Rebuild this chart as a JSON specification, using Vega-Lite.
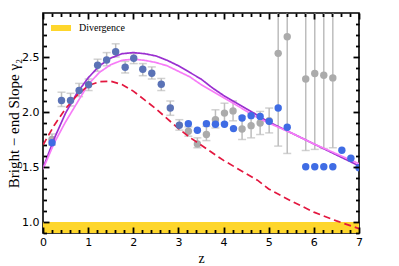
{
  "$schema": "https://vega.github.io/schema/vega-lite/v6.json",
  "width": 316,
  "height": 220,
  "autosize": "none",
  "padding": {"left": 43, "top": 13, "right": 40, "bottom": 33},
  "background": "white",
  "config": {
    "view": {"stroke": "black", "strokeWidth": 1.6},
    "axis": {"grid": false, "domain": false, "labelColor": "black", "titleColor": "black"}
  },
  "datasets": {
    "band": [{"x0": 0, "x1": 7, "ya": 0.9, "yb": 1.0, "k": "Divergence"}],
    "curves": [
      {"s": "A", "z": 0, "v": 1.49}, {"s": "A", "z": 0.25, "v": 1.76}, {"s": "A", "z": 0.5, "v": 1.99}, {"s": "A", "z": 0.75, "v": 2.17},
      {"s": "A", "z": 1.0, "v": 2.31}, {"s": "A", "z": 1.25, "v": 2.42}, {"s": "A", "z": 1.5, "v": 2.49}, {"s": "A", "z": 1.75, "v": 2.53},
      {"s": "A", "z": 2.0, "v": 2.54}, {"s": "A", "z": 2.25, "v": 2.53}, {"s": "A", "z": 2.5, "v": 2.51}, {"s": "A", "z": 2.75, "v": 2.47},
      {"s": "A", "z": 3.0, "v": 2.42}, {"s": "A", "z": 3.25, "v": 2.36}, {"s": "A", "z": 3.5, "v": 2.3}, {"s": "A", "z": 3.75, "v": 2.22},
      {"s": "A", "z": 4.0, "v": 2.15}, {"s": "A", "z": 4.25, "v": 2.09}, {"s": "A", "z": 4.5, "v": 2.03}, {"s": "A", "z": 4.75, "v": 1.97},
      {"s": "A", "z": 5.0, "v": 1.91}, {"s": "A", "z": 5.5, "v": 1.81}, {"s": "A", "z": 6.0, "v": 1.71}, {"s": "A", "z": 6.5, "v": 1.61},
      {"s": "A", "z": 7.0, "v": 1.51},
      {"s": "B", "z": 0, "v": 1.48}, {"s": "B", "z": 0.25, "v": 1.72}, {"s": "B", "z": 0.5, "v": 1.91}, {"s": "B", "z": 0.75, "v": 2.08},
      {"s": "B", "z": 1.0, "v": 2.25}, {"s": "B", "z": 1.25, "v": 2.36}, {"s": "B", "z": 1.5, "v": 2.43}, {"s": "B", "z": 1.75, "v": 2.47},
      {"s": "B", "z": 2.0, "v": 2.48}, {"s": "B", "z": 2.25, "v": 2.47}, {"s": "B", "z": 2.5, "v": 2.45}, {"s": "B", "z": 2.75, "v": 2.42},
      {"s": "B", "z": 3.0, "v": 2.37}, {"s": "B", "z": 3.25, "v": 2.32}, {"s": "B", "z": 3.5, "v": 2.25}, {"s": "B", "z": 3.75, "v": 2.19},
      {"s": "B", "z": 4.0, "v": 2.13}, {"s": "B", "z": 4.25, "v": 2.07}, {"s": "B", "z": 4.5, "v": 2.01}, {"s": "B", "z": 4.75, "v": 1.95},
      {"s": "B", "z": 5.0, "v": 1.9}, {"s": "B", "z": 5.5, "v": 1.81}, {"s": "B", "z": 6.0, "v": 1.71}, {"s": "B", "z": 6.5, "v": 1.62},
      {"s": "B", "z": 7.0, "v": 1.53},
      {"s": "C", "z": 0, "v": 1.7}, {"s": "C", "z": 0.25, "v": 1.88}, {"s": "C", "z": 0.5, "v": 2.03}, {"s": "C", "z": 0.75, "v": 2.15},
      {"s": "C", "z": 1.0, "v": 2.24}, {"s": "C", "z": 1.25, "v": 2.275}, {"s": "C", "z": 1.5, "v": 2.28}, {"s": "C", "z": 1.75, "v": 2.25},
      {"s": "C", "z": 2.0, "v": 2.19}, {"s": "C", "z": 2.25, "v": 2.11}, {"s": "C", "z": 2.5, "v": 2.03}, {"s": "C", "z": 2.75, "v": 1.94},
      {"s": "C", "z": 3.0, "v": 1.85}, {"s": "C", "z": 3.25, "v": 1.77}, {"s": "C", "z": 3.5, "v": 1.7}, {"s": "C", "z": 3.75, "v": 1.63},
      {"s": "C", "z": 4.0, "v": 1.56}, {"s": "C", "z": 4.25, "v": 1.5}, {"s": "C", "z": 4.5, "v": 1.44}, {"s": "C", "z": 4.75, "v": 1.38},
      {"s": "C", "z": 5.0, "v": 1.3}, {"s": "C", "z": 5.5, "v": 1.19}, {"s": "C", "z": 6.0, "v": 1.09}, {"s": "C", "z": 6.5, "v": 1.01},
      {"s": "C", "z": 7.0, "v": 0.94}
    ],
    "obs": [
      {"kind": "gray", "z": 0.2, "y": 1.75, "lo": 1.7, "hi": 1.8},
      {"kind": "gray", "z": 3.22, "y": 1.825, "lo": 1.78, "hi": 1.865},
      {"kind": "gray", "z": 3.42, "y": 1.71, "lo": 1.675, "hi": 1.765},
      {"kind": "gray", "z": 3.62, "y": 1.795, "lo": 1.74, "hi": 1.87},
      {"kind": "gray", "z": 3.82, "y": 1.93, "lo": 1.855, "hi": 2.02},
      {"kind": "gray", "z": 4.02, "y": 1.99, "lo": 1.9, "hi": 2.08},
      {"kind": "gray", "z": 4.21, "y": 2.01, "lo": 1.92, "hi": 2.1},
      {"kind": "gray", "z": 4.41, "y": 1.846, "lo": 1.75, "hi": 1.96},
      {"kind": "gray", "z": 4.61, "y": 1.876, "lo": 1.765, "hi": 1.99},
      {"kind": "gray", "z": 4.81, "y": 1.9, "lo": 1.795, "hi": 2.005},
      {"kind": "gray", "z": 5.01, "y": 1.92, "lo": 1.81, "hi": 2.036},
      {"kind": "gray", "z": 5.21, "y": 2.533, "lo": 1.69, "hi": 3.05},
      {"kind": "gray", "z": 5.41, "y": 2.684, "lo": 1.623, "hi": 3.05},
      {"kind": "gray", "z": 5.82, "y": 2.3, "lo": 1.65, "hi": 3.05},
      {"kind": "gray", "z": 6.02, "y": 2.35, "lo": 1.66, "hi": 3.05},
      {"kind": "gray", "z": 6.22, "y": 2.334, "lo": 1.668, "hi": 3.05},
      {"kind": "gray", "z": 6.42, "y": 2.31, "lo": 1.675, "hi": 3.05},
      {"kind": "steel", "z": 0.41, "y": 2.105, "lo": 2.05, "hi": 2.18},
      {"kind": "steel", "z": 0.61, "y": 2.105, "lo": 2.055, "hi": 2.17},
      {"kind": "steel", "z": 0.8, "y": 2.195, "lo": 2.14, "hi": 2.26},
      {"kind": "steel", "z": 1.01, "y": 2.247, "lo": 2.195, "hi": 2.3},
      {"kind": "steel", "z": 1.21, "y": 2.425, "lo": 2.37, "hi": 2.48},
      {"kind": "steel", "z": 1.41, "y": 2.473, "lo": 2.42, "hi": 2.54},
      {"kind": "steel", "z": 1.61, "y": 2.548, "lo": 2.5, "hi": 2.62},
      {"kind": "steel", "z": 1.82, "y": 2.407, "lo": 2.355, "hi": 2.46},
      {"kind": "steel", "z": 2.01, "y": 2.488, "lo": 2.44, "hi": 2.53},
      {"kind": "steel", "z": 2.21, "y": 2.389, "lo": 2.33, "hi": 2.44},
      {"kind": "steel", "z": 2.41, "y": 2.353, "lo": 2.3, "hi": 2.41},
      {"kind": "steel", "z": 2.62, "y": 2.253, "lo": 2.195, "hi": 2.305},
      {"kind": "steel", "z": 2.82, "y": 2.036, "lo": 1.97, "hi": 2.1},
      {"kind": "steel", "z": 3.02, "y": 1.879, "lo": 1.835, "hi": 1.93}
    ],
    "bright": [
      {"z": 0.2, "y": 1.72}, {"z": 3.22, "y": 1.894}, {"z": 3.42, "y": 1.834}, {"z": 3.62, "y": 1.894},
      {"z": 3.82, "y": 1.888}, {"z": 4.02, "y": 1.888}, {"z": 4.22, "y": 1.849}, {"z": 4.41, "y": 1.946},
      {"z": 4.61, "y": 1.967}, {"z": 4.81, "y": 1.96}, {"z": 5.01, "y": 1.915}, {"z": 5.21, "y": 2.036},
      {"z": 5.41, "y": 1.861}, {"z": 5.82, "y": 1.503}, {"z": 6.02, "y": 1.503}, {"z": 6.22, "y": 1.503},
      {"z": 6.42, "y": 1.503}, {"z": 6.62, "y": 1.653}, {"z": 6.82, "y": 1.58}, {"z": 7.0, "y": 1.494}
    ]
  },
  "layer": [
    {
      "data": {"name": "band"},
      "mark": {"type": "rect", "clip": true},
      "encoding": {
        "x": {"field": "x0", "type": "quantitative", "scale": {"domain": [0, 7], "nice": false, "zero": false},
          "axis": {"orient": "bottom", "zindex": 2,
            "values": [0,0.2,0.4,0.6,0.8,1,1.2,1.4,1.6,1.8,2,2.2,2.4,2.6,2.8,3,3.2,3.4,3.6,3.8,4,4.2,4.4,4.6,4.8,5,5.2,5.4,5.6,5.8,6,6.2,6.4,6.6,6.8,7],
            "labelExpr": "abs(datum.value - round(datum.value)) < 0.001 ? format(datum.value, 'd') : ''",
            "labelOverlap": false, "labelFlush": false, "tickColor": "black", "tickWidth": 1.8,
            "tickSize": {"condition": {"test": "abs(datum.value - round(datum.value)) < 0.001", "value": -6}, "value": -3.5},
            "labelPadding": 9, "labelFont": "DejaVu Sans", "labelFontSize": 11, "title": "z",
            "titleFont": "Liberation Serif", "titleFontSize": 14, "titleFontWeight": "normal", "titlePadding": 2}},
        "x2": {"field": "x1"},
        "y": {"field": "ya", "type": "quantitative", "scale": {"domain": [0.9, 2.9], "nice": false, "zero": false},
          "axis": {"orient": "left", "zindex": 2,
            "values": [0.9,1.0,1.1,1.2,1.3,1.4,1.5,1.6,1.7,1.8,1.9,2.0,2.1,2.2,2.3,2.4,2.5,2.6,2.7,2.8],
            "labelExpr": "abs(datum.value*2 - round(datum.value*2)) < 0.001 ? format(datum.value, '.1f') : ''",
            "labelOverlap": false, "labelFlush": false, "tickColor": "black", "tickWidth": 1.8,
            "tickSize": {"condition": {"test": "abs(datum.value*2 - round(datum.value*2)) < 0.001", "value": -6}, "value": -3.5},
            "labelPadding": 10, "labelFont": "DejaVu Sans", "labelFontSize": 11, "title": "Bright − end Slope γ₂",
            "titleFont": "Liberation Serif", "titleFontSize": 15, "titleFontWeight": "normal", "titlePadding": 0}},
        "y2": {"field": "yb"},
        "fill": {"field": "k", "type": "nominal", "scale": {"range": ["#fed62c"]},
          "legend": {"orient": "none", "legendX": 8, "legendY": 5, "title": null, "padding": 0,
            "symbolType": "M-1,-0.3H1V0.3H-1Z", "symbolSize": 400, "symbolStrokeWidth": 0, "symbolOpacity": 1,
            "labelFont": "Liberation Serif", "labelFontSize": 10, "labelColor": "black", "labelOffset": 8}}
      }
    },
    {
      "data": {"name": "obs"},
      "mark": {"type": "rule", "clip": true, "color": "#bdbdbd", "strokeWidth": 1.5},
      "encoding": {
        "x": {"field": "z", "type": "quantitative",
          "axis": {"orient": "top", "zindex": 2,
            "values": [0,0.2,0.4,0.6,0.8,1,1.2,1.4,1.6,1.8,2,2.2,2.4,2.6,2.8,3,3.2,3.4,3.6,3.8,4,4.2,4.4,4.6,4.8,5,5.2,5.4,5.6,5.8,6,6.2,6.4,6.6,6.8,7],
            "labels": false, "title": null, "tickColor": "black", "tickWidth": 1.8,
            "tickSize": {"condition": {"test": "abs(datum.value - round(datum.value)) < 0.001", "value": -6}, "value": -3.5}}},
        "y": {"field": "lo", "type": "quantitative",
          "axis": {"orient": "right", "zindex": 2,
            "values": [0.9,1.0,1.1,1.2,1.3,1.4,1.5,1.6,1.7,1.8,1.9,2.0,2.1,2.2,2.3,2.4,2.5,2.6,2.7,2.8],
            "labels": false, "title": null, "tickColor": "black", "tickWidth": 1.8,
            "tickSize": {"condition": {"test": "abs(datum.value*2 - round(datum.value*2)) < 0.001", "value": -6}, "value": -3.5}}},
        "y2": {"field": "hi"}
      }
    },
    {
      "data": {"name": "obs"},
      "mark": {"type": "tick", "orient": "horizontal", "clip": true, "color": "#bdbdbd", "size": 8, "thickness": 1.5},
      "encoding": {
        "x": {"field": "z", "type": "quantitative", "axis": null},
        "y": {"field": "lo", "type": "quantitative", "axis": null}
      }
    },
    {
      "data": {"name": "obs"},
      "mark": {"type": "tick", "orient": "horizontal", "clip": true, "color": "#bdbdbd", "size": 8, "thickness": 1.5},
      "encoding": {
        "x": {"field": "z", "type": "quantitative", "axis": null},
        "y": {"field": "hi", "type": "quantitative", "axis": null}
      }
    },
    {
      "data": {"name": "obs"},
      "transform": [{"filter": "datum.kind === 'gray'"}],
      "mark": {"type": "point", "filled": true, "clip": true, "color": "#ababab", "opacity": 1, "size": 55},
      "encoding": {
        "x": {"field": "z", "type": "quantitative", "axis": null},
        "y": {"field": "y", "type": "quantitative", "axis": null}
      }
    },
    {
      "data": {"name": "curves"},
      "mark": {"type": "line", "clip": true, "strokeWidth": 1.7},
      "encoding": {
        "x": {"field": "z", "type": "quantitative", "axis": null},
        "y": {"field": "v", "type": "quantitative", "axis": null},
        "stroke": {"field": "s", "type": "nominal", "scale": {"domain": ["A", "B", "C"], "range": ["#9a2fd0", "#f77cf7", "#e3173f"]}, "legend": null},
        "strokeDash": {"field": "s", "type": "nominal", "scale": {"domain": ["A", "B", "C"], "range": [[1, 0], [1, 0], [7, 4]]}, "legend": null}
      }
    },
    {
      "data": {"name": "obs"},
      "transform": [{"filter": "datum.kind === 'steel'"}],
      "mark": {"type": "point", "filled": true, "clip": true, "color": "#5a72b6", "opacity": 1, "size": 55},
      "encoding": {
        "x": {"field": "z", "type": "quantitative", "axis": null},
        "y": {"field": "y", "type": "quantitative", "axis": null}
      }
    },
    {
      "data": {"name": "bright"},
      "mark": {"type": "point", "filled": true, "clip": true, "color": "#3f6ce4", "opacity": 1, "size": 55},
      "encoding": {
        "x": {"field": "z", "type": "quantitative", "axis": null},
        "y": {"field": "y", "type": "quantitative", "axis": null}
      }
    }
  ],
  "resolve": {"axis": {"x": "independent", "y": "independent"}}
}
